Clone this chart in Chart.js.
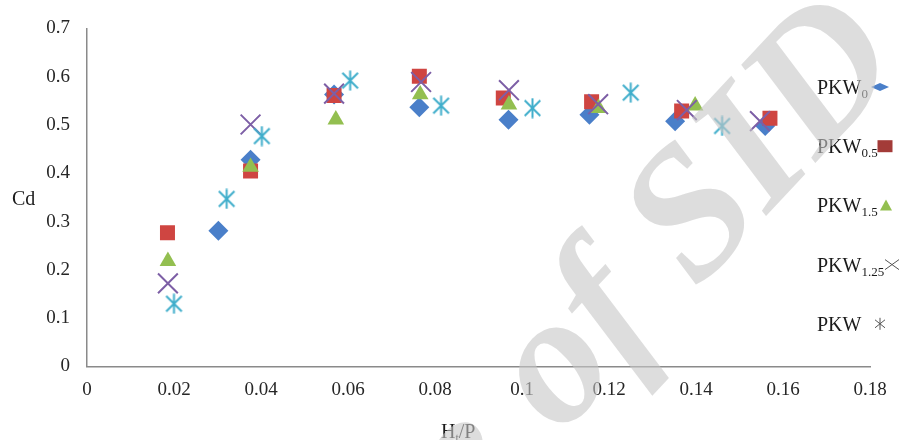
<!DOCTYPE html>
<html lang="en">
<head>
<meta charset="UTF-8">
<title>Cd vs Ht/P</title>
<script src="https://cdn.jsdelivr.net/npm/chart.js"></script>
<style>
    html, body {
        margin: 0;
        padding: 0;
        background: #fff;
    }
    .chart-container {
        position: relative;
        width: 900px;
        height: 440px;
    }
</style>
</head>
<body>
<div class="chart-container">
    <canvas id="cdChart"></canvas>
</div>
<script>
    const pkw0X = [0.0302, 0.0376, 0.0568, 0.0764, 0.0969, 0.1155, 0.1352, 0.1559];
    const pkw0Y = [0.281, 0.428, 0.563, 0.537, 0.511, 0.521, 0.508, 0.498];

    const pkw05X = [0.0185, 0.0376, 0.0568, 0.0764, 0.0957, 0.1160, 0.1367, 0.1570];
    const pkw05Y = [0.277, 0.405, 0.561, 0.601, 0.556, 0.548, 0.529, 0.514];

    const pkw15X = [0.0186, 0.0376, 0.0572, 0.0766, 0.0970, 0.1176, 0.1398];
    const pkw15Y = [0.218, 0.413, 0.511, 0.563, 0.542, 0.535, 0.540];

    const pkw125X = [0.0186, 0.0376, 0.0568, 0.0768, 0.0970, 0.1175, 0.1379, 0.1547];
    const pkw125Y = [0.172, 0.501, 0.565, 0.589, 0.572, 0.543, 0.531, 0.508];

    const pkwX = [0.0200, 0.0321, 0.0402, 0.0605, 0.0814, 0.1024, 0.1250, 0.1460];
    const pkwY = [0.130, 0.347, 0.477, 0.592, 0.540, 0.535, 0.567, 0.498];

    const seriesMain = ['PKW', 'PKW', 'PKW', 'PKW', 'PKW'];
    const seriesSub = ['0', '0.5', '1.5', '1.25', ''];
    const seriesColors = ['#4a7fc9', '#cf4541', '#93bf50', '#7d5fa6', '#40aecb'];

    const xTicks = [0, 0.02, 0.04, 0.06, 0.08, 0.1, 0.12, 0.14, 0.16, 0.18];
    const yTicks = [0, 0.1, 0.2, 0.3, 0.4, 0.5, 0.6, 0.7];

    const serif = '"Liberation Serif", "Times New Roman", serif';

    function toPoints(xs, ys) {
        return xs.map((x, i) => ({ x: x, y: ys[i] }));
    }

    // Excel-like asterisk marker (vertical bar + X)
    function makeAsterisk(color, size, lw) {
        const c = document.createElement('canvas');
        c.width = size;
        c.height = size;
        const g = c.getContext('2d');
        const m = size / 2, a = size / 2 - 0.5, d = a * 0.78;
        g.strokeStyle = color;
        g.lineWidth = lw;
        g.beginPath();
        g.moveTo(m, m - a); g.lineTo(m, m + a);
        g.moveTo(m - d, m - d); g.lineTo(m + d, m + d);
        g.moveTo(m + d, m - d); g.lineTo(m - d, m + d);
        g.stroke();
        return c;
    }

    // legend at the right, text first then the marker
    const sideLegend = {
        id: 'sideLegend',
        afterDatasetsDraw(chart) {
            const ctx = chart.ctx;
            const x0 = 817, y0 = 94, step = 59.2;
            const markX = [880, 885, 886, 892, 880];
            ctx.save();
            for (let i = 0; i < seriesMain.length; i++) {
                const by = y0 + i * step;
                ctx.fillStyle = '#1a1a1a';
                ctx.textBaseline = 'alphabetic';
                ctx.textAlign = 'left';
                ctx.font = '20px ' + serif;
                ctx.fillText(seriesMain[i], x0, by);
                const w = ctx.measureText(seriesMain[i]).width;
                ctx.font = '13px ' + serif;
                ctx.fillText(seriesSub[i], x0 + w, by + 4);

                const mx = markX[i], my = by - 7;
                ctx.fillStyle = seriesColors[i];
                ctx.strokeStyle = seriesColors[i];
                ctx.beginPath();
                if (i === 0) {
                    ctx.moveTo(mx - 9, my); ctx.lineTo(mx, my - 4);
                    ctx.lineTo(mx + 9, my); ctx.lineTo(mx, my + 4);
                    ctx.closePath(); ctx.fill();
                } else if (i === 1) {
                    ctx.fillStyle = '#a33b38';
                    ctx.fillRect(mx - 7.5, my - 6, 15, 12);
                } else if (i === 2) {
                    ctx.moveTo(mx, my - 6); ctx.lineTo(mx + 6, my + 5);
                    ctx.lineTo(mx - 6, my + 5);
                    ctx.closePath(); ctx.fill();
                } else if (i === 3) {
                    ctx.strokeStyle = '#555';
                    ctx.lineWidth = 1;
                    ctx.moveTo(mx - 7, my - 5); ctx.lineTo(mx + 7, my + 5);
                    ctx.moveTo(mx + 7, my - 5); ctx.lineTo(mx - 7, my + 5);
                    ctx.stroke();
                } else {
                    ctx.strokeStyle = '#555';
                    ctx.lineWidth = 1;
                    ctx.moveTo(mx, my - 6); ctx.lineTo(mx, my + 6);
                    ctx.moveTo(mx - 5, my - 4); ctx.lineTo(mx + 5, my + 4);
                    ctx.moveTo(mx + 5, my - 4); ctx.lineTo(mx - 5, my + 4);
                    ctx.stroke();
                }
            }
            ctx.restore();
        }
    };

    // axis titles : "Cd" horizontal on the left, "Ht/P" under the x axis
    const axisTitles = {
        id: 'axisTitles',
        afterDraw(chart) {
            const ctx = chart.ctx;
            ctx.save();
            ctx.fillStyle = '#1a1a1a';
            ctx.textAlign = 'left';
            ctx.textBaseline = 'alphabetic';
            ctx.font = '20px ' + serif;
            ctx.fillText('Cd', 12, 205);

            let x = 441;
            ctx.fillText('H', x, 438);
            x += ctx.measureText('H').width;
            ctx.font = '12px ' + serif;
            ctx.fillText('t', x, 442);
            x += ctx.measureText('t').width;
            ctx.font = '20px ' + serif;
            ctx.fillText('/P', x, 438);
            ctx.restore();
        }
    };

    // faint rotated watermark lying over the plot
    const watermark = {
        id: 'watermark',
        afterDraw(chart) {
            const ctx = chart.ctx;
            ctx.save();
            ctx.translate(697, 290);
            ctx.rotate(-47 * Math.PI / 180);
            ctx.font = 'italic bold 185px ' + serif;
            ctx.fillStyle = 'rgba(198,198,198,0.6)';
            ctx.textBaseline = 'alphabetic';
            ctx.textAlign = 'right';
            ctx.fillText('Archive of ', 0, 0);
            ctx.textAlign = 'left';
            ctx.fillText('SID', 0, 0);
            ctx.restore();
        }
    };

    const ctx = document.getElementById('cdChart').getContext('2d');
    const cdChart = new Chart(ctx, {
        type: 'scatter',
        data: {
            datasets: [
                {
                    label: 'PKW0',
                    data: toPoints(pkw0X, pkw0Y),
                    pointStyle: 'rectRot',
                    pointRadius: 10,
                    backgroundColor: seriesColors[0],
                    borderColor: seriesColors[0],
                    borderWidth: 0,
                    order: 4
                },
                {
                    label: 'PKW0.5',
                    data: toPoints(pkw05X, pkw05Y),
                    pointStyle: 'rect',
                    pointRadius: 10.6,
                    backgroundColor: seriesColors[1],
                    borderColor: seriesColors[1],
                    borderWidth: 0,
                    order: 3
                },
                {
                    label: 'PKW1.5',
                    data: toPoints(pkw15X, pkw15Y),
                    pointStyle: 'triangle',
                    pointRadius: 9.6,
                    backgroundColor: seriesColors[2],
                    borderColor: seriesColors[2],
                    borderWidth: 0,
                    order: 2
                },
                {
                    label: 'PKW1.25',
                    data: toPoints(pkw125X, pkw125Y),
                    pointStyle: 'crossRot',
                    pointRadius: 14,
                    backgroundColor: seriesColors[3],
                    borderColor: seriesColors[3],
                    borderWidth: 2,
                    order: 1
                },
                {
                    label: 'PKW',
                    data: toPoints(pkwX, pkwY),
                    pointStyle: makeAsterisk(seriesColors[4], 21, 2),
                    pointRadius: 10,
                    backgroundColor: seriesColors[4],
                    borderColor: seriesColors[4],
                    order: 0
                }
            ]
        },
        options: {
            responsive: true,
            maintainAspectRatio: false,
            animation: false,
            layout: {
                padding: { top: 22, right: 30, left: 0, bottom: 0 }
            },
            scales: {
                x: {
                    type: 'linear',
                    min: 0,
                    max: 0.18,
                    afterBuildTicks: (scale) => { scale.ticks = xTicks.map(v => ({ value: v })); },
                    afterFit: (scale) => { scale.height = 73.5; },
                    grid: { drawOnChartArea: false, drawTicks: false },
                    border: { display: true, color: '#8a8a8a', width: 1.5 },
                    ticks: {
                        padding: 12,
                        color: '#262626',
                        font: { family: serif, size: 19 },
                        callback: (v) => String(Math.round(v * 100) / 100)
                    }
                },
                y: {
                    type: 'linear',
                    min: 0,
                    max: 0.7,
                    afterBuildTicks: (scale) => { scale.ticks = yTicks.map(v => ({ value: v })); },
                    afterFit: (scale) => { scale.width = 87; },
                    grid: { drawOnChartArea: false, drawTicks: false },
                    border: { display: true, color: '#8a8a8a', width: 1.5 },
                    ticks: {
                        padding: 17,
                        color: '#262626',
                        font: { family: serif, size: 19 },
                        callback: (v) => String(Math.round(v * 10) / 10)
                    }
                }
            },
            plugins: {
                legend: { display: false },
                tooltip: { enabled: false }
            }
        },
        plugins: [sideLegend, axisTitles, watermark]
    });
</script>
</body>
</html>
